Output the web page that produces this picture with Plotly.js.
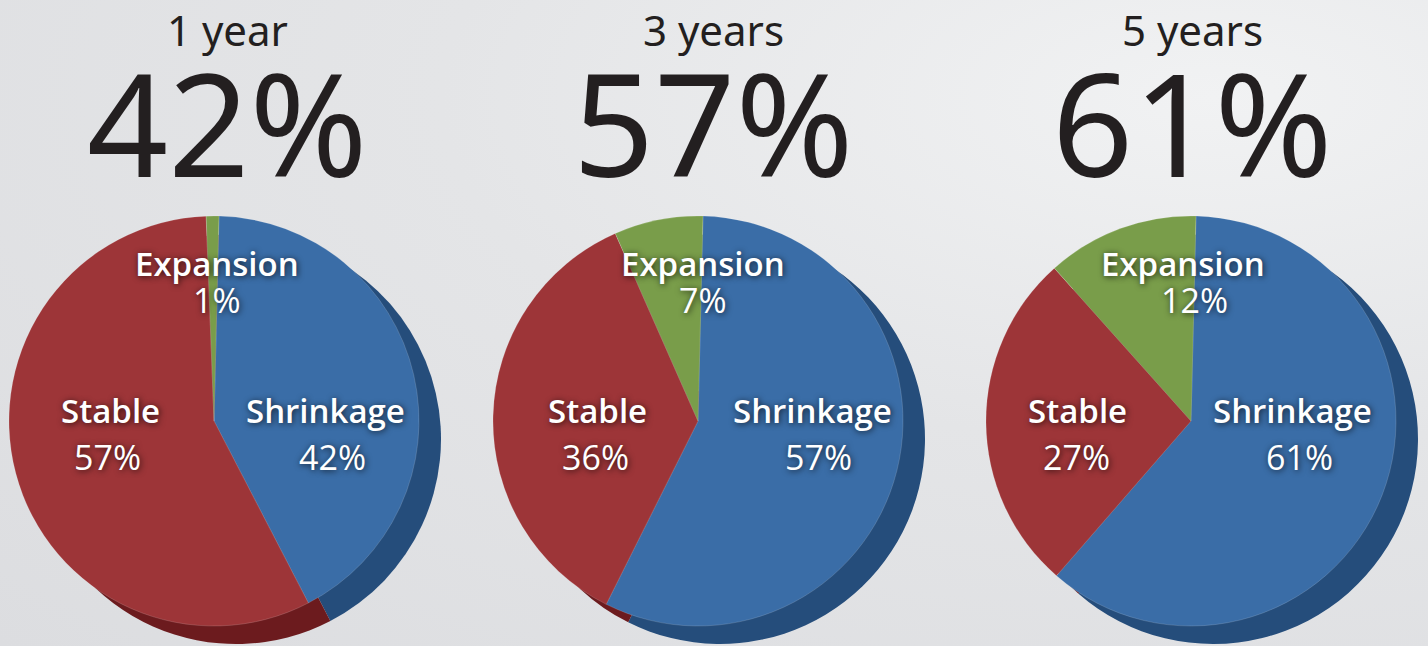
<!DOCTYPE html>
<html>
<head>
<meta charset="utf-8">
<script src="https://cdn.plot.ly/plotly-3.0.1.min.js"></script>
<style>
  html, body { margin: 0; padding: 0; }
  body {
    width: 1428px; height: 646px; overflow: hidden;
    background: radial-gradient(ellipse at 85% 15%, #f1f2f3 0%, #e4e5e7 45%, #dcdde0 100%);
  }
  #chart { width: 1428px; height: 646px; }
</style>
</head>
<body>
<div id="chart"></div>
<script>
// ---- data ----
const categories = ['Shrinkage', 'Stable', 'Expansion'];
const periods = ['1 year', '3 years', '5 years'];
const shrinkage = [42, 57, 61];
const stable = [57, 36, 27];
const expansion = [1, 7, 12];
const headline = ['42%', '57%', '61%'];

// ---- styles / layout ----
const W = 1428, H = 646;
const colors = ['#3a6da7', '#9d3538', '#799d4a'];
const depthColors = ['#254d7b', '#6c1b1e', '#4f6d2c'];
const centers = [[214, 421], [698, 421], [1191, 421]];
const R = 205;
const depth = [22, 18];
const startAngle = 1.4;
const titleX = [227, 713, 1192];
// label offsets relative to pie centre: [nameX, nameY, valueX, valueY]
const labelPos = [
  [[111, -11, 118, 36], [-104, -11, -106, 36], [3, -158, 3, -121]],
  [[114, -11, 120, 36], [-101, -11, -103, 36], [5, -158, 5, -121]],
  [[101, -11, 108, 36], [-114, -11, -115, 36], [-8, -158, 3, -121]]
];

const px = x => x / W;
const py = y => 1 - y / H;

const traces = [];
const annotations = [];
const labelShadow = '1px 1px 6px rgba(0,0,0,0.75)';

periods.forEach((p, i) => {
  const vals = [shrinkage[i], stable[i], expansion[i]];
  const [cx, cy] = centers[i];
  // depth (extrusion) pie
  traces.push({
    type: 'pie', values: vals, labels: categories, sort: false,
    direction: 'clockwise', rotation: startAngle, textinfo: 'none', hoverinfo: 'none',
    showlegend: false,
    marker: { colors: depthColors, line: { width: 0 } },
    domain: { x: [px(cx + depth[0] - R), px(cx + depth[0] + R)],
              y: [py(cy + depth[1] + R), py(cy + depth[1] - R)] }
  });
  // top pie
  traces.push({
    type: 'pie', values: vals, labels: categories, sort: false,
    direction: 'clockwise', rotation: startAngle, textinfo: 'none', hoverinfo: 'label+percent',
    showlegend: false,
    marker: { colors: colors, line: { color: 'rgba(255,255,255,0.25)', width: 0.6 } },
    domain: { x: [px(cx - R), px(cx + R)], y: [py(cy + R), py(cy - R)] }
  });

  // titles
  annotations.push({
    xref: 'paper', yref: 'paper', x: px(titleX[i]), y: py(30),
    xanchor: 'center', yanchor: 'middle', showarrow: false,
    text: p, font: { family: 'Noto Sans', size: 42, color: '#231f20' }
  });
  annotations.push({
    xref: 'paper', yref: 'paper', x: px(titleX[i]), y: py(122),
    xanchor: 'center', yanchor: 'middle', showarrow: false,
    text: headline[i], font: { family: 'Noto Sans', size: 142, color: '#231f20' }
  });

  // slice labels
  categories.forEach((c, k) => {
    const lp = labelPos[i][k];
    annotations.push({
      xref: 'paper', yref: 'paper', x: px(cx + lp[0]), y: py(cy + lp[1]),
      xanchor: 'center', yanchor: 'middle', showarrow: false,
      text: c,
      font: { family: 'Open Sans', size: 33, weight: 600, color: '#ffffff', shadow: labelShadow }
    });
    annotations.push({
      xref: 'paper', yref: 'paper', x: px(cx + lp[2]), y: py(cy + lp[3]),
      xanchor: 'center', yanchor: 'middle', showarrow: false,
      text: vals[k] + '%',
      font: { family: 'Open Sans', size: 34, weight: 400, color: '#ffffff', shadow: labelShadow }
    });
  });
});

const layout = {
  width: W, height: H,
  margin: { l: 0, r: 0, t: 0, b: 0 },
  paper_bgcolor: 'rgba(0,0,0,0)',
  plot_bgcolor: 'rgba(0,0,0,0)',
  showlegend: false,
  annotations: annotations
};

Plotly.newPlot('chart', traces, layout, { displayModeBar: false, staticPlot: true });
</script>
</body>
</html>
